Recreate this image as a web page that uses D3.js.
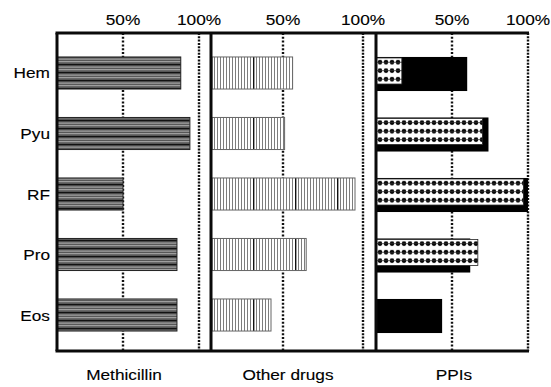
<!DOCTYPE html>
<html>
<head>
<meta charset="utf-8">
<script src="https://cdn.jsdelivr.net/npm/d3@7/dist/d3.min.js"></script>
<style>
  html, body { margin: 0; padding: 0; background: #fff; }
  svg { display: block; }
  text { font-family: "Liberation Sans", Arial, sans-serif; font-size: 15px; fill: #000; stroke: #000; stroke-width: 0.12px; }
</style>
</head>
<body>
<svg id="chart" width="551" height="387"></svg>
<script>
// Categories (rows)
const categories = ["Hem", "Pyu", "RF", "Pro", "Eos"];
// Panel titles
const panelNames = ["Methicillin", "Other drugs", "PPIs"];
// Reference tick values and their labels
const tickValues = [50, 100];
const tickLabels = ["50%", "100%"];
// Series values (%)
const methicillin = [88, 94, 50, 85.5, 85.5];
const otherDrugs = [56, 51, 95, 64.5, 42.5];
const ppiSolid = [60, 74, 100, 62, 43.5];
const ppiDotted = [17, 70, 97, 67, 0];

const svg = d3.select("#chart");
const plotTop = 33, plotBottom = 351;
const stretch = 1.15;

// Panel geometry: left edge, right edge, positions of the 50% and 100% guides
const panels = [
  { left: 57,  right: 211, x50: 123, x100: 199 },
  { left: 211, right: 376, x50: 283, x100: 363 },
  { left: 376, right: 528, x50: 452, x100: 528 }
];
panels.forEach(p => {
  p.x = d3.scaleLinear().domain(tickValues).range([p.x50, p.x100]);
});

const y = d3.scaleBand()
  .domain(categories)
  .range([37, 351])
  .paddingInner(0.47)
  .paddingOuter(0.33);

const defs = svg.append("defs");

// Horizontal stripes
const hs = defs.append("pattern").attr("id", "hstripe")
  .attr("patternUnits", "userSpaceOnUse").attr("width", 8).attr("height", 8);
hs.append("rect").attr("width", 8).attr("height", 8).attr("fill", "#575757");
hs.append("rect").attr("y", 0).attr("width", 8).attr("height", 1.2).attr("fill", "#111");
hs.append("rect").attr("y", 2.6).attr("width", 8).attr("height", 1).attr("fill", "#b0b0b0");
hs.append("rect").attr("y", 5.2).attr("width", 8).attr("height", 1).attr("fill", "#b0b0b0");

// Vertical stripes
const vs = defs.append("pattern").attr("id", "vstripe")
  .attr("patternUnits", "userSpaceOnUse").attr("x", panels[1].left)
  .attr("width", 42).attr("height", 10);
vs.append("rect").attr("width", 42).attr("height", 10).attr("fill", "#fff");
d3.range(0, 42, 3).forEach((px, i) => {
  vs.append("rect").attr("x", px).attr("width", i === 0 ? 1.4 : 1).attr("height", 10)
    .attr("fill", i === 0 ? "#111" : "#7d7d7d");
});

// Dot grids, one per row so the dots line up with each bar
categories.forEach((c, i) => {
  const pt = defs.append("pattern").attr("id", "dots" + i)
    .attr("patternUnits", "userSpaceOnUse")
    .attr("x", panels[2].left + 1).attr("y", y(c) + 1)
    .attr("width", 6).attr("height", 8.5);
  pt.append("rect").attr("width", 6).attr("height", 8.5).attr("fill", "#fff");
  pt.append("circle").attr("cx", 3).attr("cy", 4.2).attr("r", 2.3).attr("fill", "#000");
  pt.append("rect").attr("x", 0).attr("y", 3.8).attr("width", 6).attr("height", 0.8).attr("fill", "#333");
});

function label(x, yy, txt, anchor) {
  svg.append("g").attr("transform", `translate(${x},${yy}) scale(${stretch},1)`)
    .append("text").attr("text-anchor", anchor).text(txt);
}

// Dotted guides at 50% and 100%
panels.forEach(p => {
  tickValues.forEach((v, k) => {
    svg.append("line")
      .attr("x1", p.x(v)).attr("x2", p.x(v))
      .attr("y1", plotTop).attr("y2", plotBottom)
      .attr("stroke", "#111").attr("stroke-width", 2.4)
      .attr("stroke-dasharray", k === 0 ? "2,1.8" : "2,1.3");
  });
});

const bw = y.bandwidth();

// Methicillin bars
svg.append("g").selectAll("rect").data(methicillin).join("rect")
  .attr("x", panels[0].left)
  .attr("y", (d, i) => y(categories[i]))
  .attr("width", d => panels[0].x(d) - panels[0].left)
  .attr("height", bw)
  .attr("fill", "url(#hstripe)")
  .attr("stroke", "#222").attr("stroke-width", 1);

// Other drugs bars
svg.append("g").selectAll("rect").data(otherDrugs).join("rect")
  .attr("x", panels[1].left)
  .attr("y", (d, i) => y(categories[i]))
  .attr("width", d => panels[1].x(d) - panels[1].left)
  .attr("height", bw)
  .attr("fill", "url(#vstripe)")
  .attr("stroke", "#666").attr("stroke-width", 1);

// PPIs: solid bars behind, dotted bars on top
svg.append("g").selectAll("rect").data(ppiSolid).join("rect")
  .attr("x", panels[2].left)
  .attr("y", (d, i) => y(categories[i]))
  .attr("width", d => panels[2].x(d) - panels[2].left)
  .attr("height", bw + 2)
  .attr("fill", "#000");

svg.append("g").selectAll("rect").data(ppiDotted).join("rect")
  .filter(d => d > 0)
  .attr("x", panels[2].left)
  .attr("y", (d, i) => y(categories[i]) + 1)
  .attr("width", d => panels[2].x(d) - panels[2].left)
  .attr("height", bw - 6)
  .attr("fill", (d, i) => `url(#dots${i})`)
  .attr("stroke", "#222").attr("stroke-width", 0.8);

// Frame
const frame = svg.append("g").attr("stroke", "#0a0a0a").attr("stroke-width", 3).attr("fill", "none");
frame.append("line").attr("x1", panels[0].left - 1.5).attr("x2", panels[2].right + 1).attr("y1", plotTop).attr("y2", plotTop);
frame.append("line").attr("x1", panels[0].left - 1.5).attr("x2", panels[2].right + 1).attr("y1", plotBottom).attr("y2", plotBottom);
panels.forEach(p => {
  frame.append("line").attr("x1", p.left).attr("x2", p.left).attr("y1", plotTop).attr("y2", plotBottom);
});

// Tick labels above each panel
panels.forEach(p => {
  tickValues.forEach((v, k) => label(p.x(v), 25, tickLabels[k], "middle"));
});

// Category labels
categories.forEach(c => label(50, y(c) + bw / 2 + 5.5, c, "end"));

// Panel titles
const titleX = [124, 288, 454];
panelNames.forEach((n, i) => label(titleX[i], 380, n, "middle"));
</script>
</body>
</html>
